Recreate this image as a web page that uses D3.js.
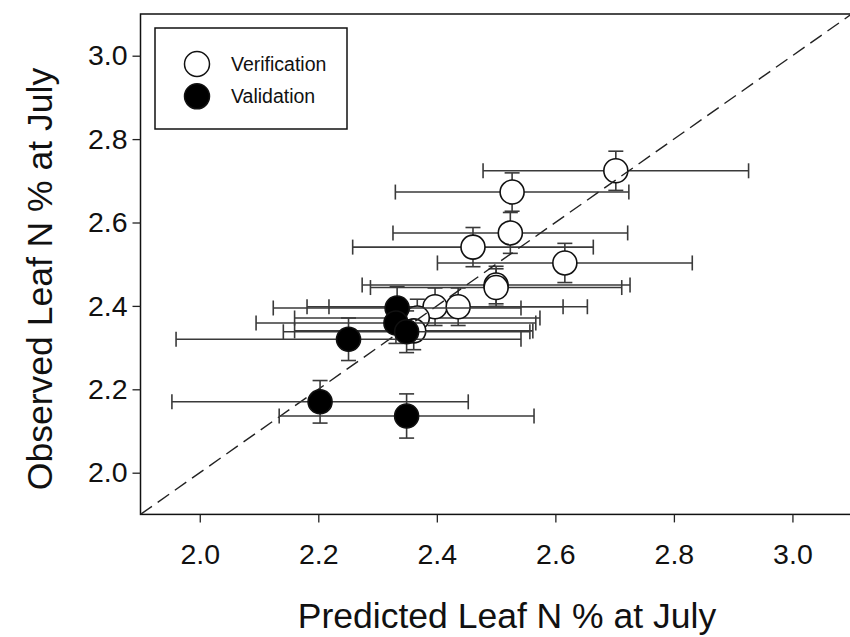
<!DOCTYPE html>
<html>
<head>
<meta charset="utf-8">
<script src="https://cdn.jsdelivr.net/npm/d3@7"></script>
<style>
  body { margin: 0; background: #fff; }
  svg { display: block; font-family: "Liberation Sans", Arial, sans-serif; }
</style>
</head>
<body>
<svg width="850" height="637"></svg>
<script>
// verification points (open circles)
var verPred  = [2.702, 2.527, 2.524, 2.461, 2.616, 2.500, 2.500, 2.397, 2.436, 2.367, 2.361];
var verObs   = [2.724, 2.673, 2.575, 2.541, 2.503, 2.450, 2.444, 2.398, 2.398, 2.371, 2.340];
var verPredErr = [0.224, 0.197, 0.198, 0.203, 0.215, 0.226, 0.212, 0.216, 0.218, 0.207, 0.201];
var verObsErr  = [0.047, 0.046, 0.049, 0.047, 0.047, 0.045, 0.045, 0.045, 0.045, 0.045, 0.045];

// validation points (filled circles)
var valPred  = [2.333, 2.331, 2.349, 2.251, 2.203, 2.349];
var valObs   = [2.395, 2.359, 2.338, 2.320, 2.170, 2.136];
var valPredErr = [0.209, 0.236, 0.208, 0.291, 0.250, 0.215];
var valObsErr  = [0.051, 0.049, 0.050, 0.051, 0.051, 0.053];

var tickValues = [2.0, 2.2, 2.4, 2.6, 2.8, 3.0];
var legendLabels = ["Verification", "Validation"];

var svg = d3.select("svg"),
    margin = { top: 14, left: 140.5 },
    width = 711.2,
    height = 500.4;

var x = d3.scaleLinear().domain([1.9, 3.1]).range([0, width]);
var y = d3.scaleLinear().domain([1.9, 3.1]).range([height, 0]);

var g = svg.append("g")
    .attr("transform", "translate(" + margin.left + "," + margin.top + ")");

// frame
g.append("rect")
    .attr("width", width).attr("height", height)
    .attr("fill", "none").attr("stroke", "#111").attr("stroke-width", 1.5);

// axes
var xAxis = g.append("g")
    .attr("transform", "translate(0," + height + ")")
    .call(d3.axisBottom(x).tickValues(tickValues).tickSize(8).tickPadding(21).tickFormat(d3.format(".1f")));
var yAxis = g.append("g")
    .call(d3.axisLeft(y).tickValues(tickValues).tickSize(8).tickPadding(5).tickFormat(d3.format(".1f")));
[xAxis, yAxis].forEach(function(a) {
    a.select(".domain").remove();
    a.selectAll("line").attr("stroke", "#222").attr("stroke-width", 1.3);
    a.selectAll("text").attr("font-size", 28.5).attr("fill", "#111")
        .style("font-family", "'Liberation Sans', Arial, sans-serif");
});

// axis titles
svg.append("text")
    .attr("x", 507).attr("y", 628)
    .attr("text-anchor", "middle").attr("font-size", 35.5).attr("fill", "#111")
    .text("Predicted Leaf N % at July");
svg.append("text")
    .attr("transform", "translate(52,279) rotate(-90)")
    .attr("text-anchor", "middle").attr("font-size", 35.5).attr("fill", "#111")
    .text("Observed Leaf N % at July");

function toRows(px, py, ex, ey) {
    return px.map(function(d, i) {
        return { px: d, py: py[i], ex: ex[i], ey: ey[i] };
    });
}
var verData = toRows(verPred, verObs, verPredErr, verObsErr);
var valData = toRows(valPred, valObs, valPredErr, valObsErr);

var cap = 7.5;
function drawBars(data, cls) {
    var bars = g.append("g").attr("class", cls)
        .attr("stroke", "#3a3a3a").attr("stroke-width", 1.6).attr("fill", "none");
    var e = bars.selectAll("g").data(data).enter().append("g");
    // horizontal
    e.append("line")
        .attr("x1", function(d) { return x(d.px - d.ex); })
        .attr("x2", function(d) { return x(d.px + d.ex); })
        .attr("y1", function(d) { return y(d.py); })
        .attr("y2", function(d) { return y(d.py); });
    e.append("line")
        .attr("x1", function(d) { return x(d.px - d.ex); })
        .attr("x2", function(d) { return x(d.px - d.ex); })
        .attr("y1", function(d) { return y(d.py) - cap; })
        .attr("y2", function(d) { return y(d.py) + cap; });
    e.append("line")
        .attr("x1", function(d) { return x(d.px + d.ex); })
        .attr("x2", function(d) { return x(d.px + d.ex); })
        .attr("y1", function(d) { return y(d.py) - cap; })
        .attr("y2", function(d) { return y(d.py) + cap; });
    // vertical
    e.append("line")
        .attr("x1", function(d) { return x(d.px); })
        .attr("x2", function(d) { return x(d.px); })
        .attr("y1", function(d) { return y(d.py - d.ey); })
        .attr("y2", function(d) { return y(d.py + d.ey); });
    e.append("line")
        .attr("x1", function(d) { return x(d.px) - cap; })
        .attr("x2", function(d) { return x(d.px) + cap; })
        .attr("y1", function(d) { return y(d.py + d.ey); })
        .attr("y2", function(d) { return y(d.py + d.ey); });
    e.append("line")
        .attr("x1", function(d) { return x(d.px) - cap; })
        .attr("x2", function(d) { return x(d.px) + cap; })
        .attr("y1", function(d) { return y(d.py - d.ey); })
        .attr("y2", function(d) { return y(d.py - d.ey); });
}

function drawPoints(data, fill) {
    g.append("g").selectAll("circle").data(data).enter().append("circle")
        .attr("cx", function(d) { return x(d.px); })
        .attr("cy", function(d) { return y(d.py); })
        .attr("r", 12)
        .attr("fill", fill)
        .attr("stroke", "#111").attr("stroke-width", 1.6);
}

drawBars(verData, "ver-bars");
drawPoints(verData, "#fff");

// 1:1 line
g.append("line")
    .attr("x1", x(1.9)).attr("y1", y(1.9))
    .attr("x2", x(3.1)).attr("y2", y(3.1))
    .attr("stroke", "#222").attr("stroke-width", 1.4)
    .attr("stroke-dasharray", "14,7");

drawBars(valData, "val-bars");
drawPoints(valData, "#000");

// legend
var lg = svg.append("g");
lg.append("rect")
    .attr("x", 155).attr("y", 28).attr("width", 192).attr("height", 101)
    .attr("fill", "#fff").attr("stroke", "#111").attr("stroke-width", 1.5);
var items = lg.selectAll("g.item").data(legendLabels).enter().append("g")
    .attr("transform", function(d, i) { return "translate(197," + (64 + i * 32.3) + ")"; });
items.append("circle").attr("r", 12.5)
    .attr("fill", function(d, i) { return i === 0 ? "#fff" : "#000"; })
    .attr("stroke", "#111").attr("stroke-width", 1.5);
items.append("text").attr("x", 34).attr("dy", "0.35em")
    .attr("font-size", 19.5).attr("fill", "#111")
    .text(function(d) { return d; });
</script>
</body>
</html>
